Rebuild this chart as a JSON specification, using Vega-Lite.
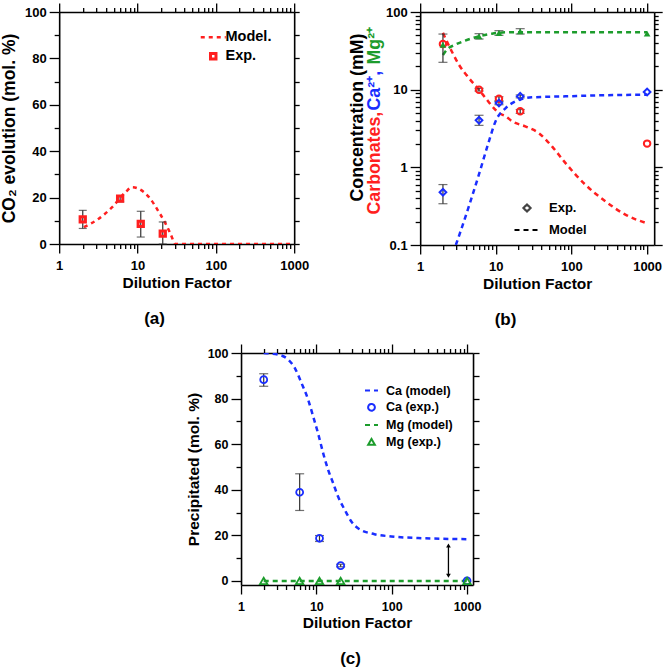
{
  "$schema": "https://vega.github.io/schema/vega-lite/v6.json",
  "padding": {"left": 0, "top": 2, "right": 0, "bottom": 0},
  "datasets": {
    "a_model": [
      {"x": 2.07, "y": 7.3, "series": "Model."},
      {"x": 3.2, "y": 10.9, "series": "Model."},
      {"x": 4.75, "y": 15.9, "series": "Model."},
      {"x": 7.0, "y": 22.3, "series": "Model."},
      {"x": 8.56, "y": 24.5, "series": "Model."},
      {"x": 10.4, "y": 23.8, "series": "Model."},
      {"x": 14, "y": 20.2, "series": "Model."},
      {"x": 18.8, "y": 13.7, "series": "Model."},
      {"x": 22.8, "y": 8.8, "series": "Model."},
      {"x": 26.3, "y": 4.5, "series": "Model."},
      {"x": 30.6, "y": 0, "series": "Model."},
      {"x": 100, "y": 0, "series": "Model."},
      {"x": 1000, "y": 0, "series": "Model."}
    ],
    "a_exp": [
      {"x": 2, "y": 10.6, "lo": 6.7, "hi": 14.5},
      {"x": 6, "y": 19.6, "lo": 18.2, "hi": 20.9},
      {"x": 11, "y": 8.7, "lo": 3.0, "hi": 14.1},
      {"x": 21, "y": 4.5, "lo": 0, "hi": 9.5}
    ],
    "b_model": [
      {"x": 2, "y": 54, "species": "Carbonates", "kind": "Model"},
      {"x": 2.25, "y": 41.9, "species": "Carbonates", "kind": "Model"},
      {"x": 2.62, "y": 31, "species": "Carbonates", "kind": "Model"},
      {"x": 3.25, "y": 21, "species": "Carbonates", "kind": "Model"},
      {"x": 4.41, "y": 14.1, "species": "Carbonates", "kind": "Model"},
      {"x": 5.97, "y": 10, "species": "Carbonates", "kind": "Model"},
      {"x": 7.32, "y": 7.8, "species": "Carbonates", "kind": "Model"},
      {"x": 8.97, "y": 6.1, "species": "Carbonates", "kind": "Model"},
      {"x": 11, "y": 5.0, "species": "Carbonates", "kind": "Model"},
      {"x": 13.5, "y": 4.54, "species": "Carbonates", "kind": "Model"},
      {"x": 16.5, "y": 3.9, "species": "Carbonates", "kind": "Model"},
      {"x": 24.5, "y": 3.37, "species": "Carbonates", "kind": "Model"},
      {"x": 36.8, "y": 2.77, "species": "Carbonates", "kind": "Model"},
      {"x": 55.3, "y": 1.86, "species": "Carbonates", "kind": "Model"},
      {"x": 83, "y": 1.14, "species": "Carbonates", "kind": "Model"},
      {"x": 152, "y": 0.6, "species": "Carbonates", "kind": "Model"},
      {"x": 281, "y": 0.365, "species": "Carbonates", "kind": "Model"},
      {"x": 516, "y": 0.246, "species": "Carbonates", "kind": "Model"},
      {"x": 1000, "y": 0.19, "species": "Carbonates", "kind": "Model"},
      {"x": 2.96, "y": 0.1, "species": "Ca", "kind": "Model"},
      {"x": 3.42, "y": 0.15, "species": "Ca", "kind": "Model"},
      {"x": 5.97, "y": 0.805, "species": "Ca", "kind": "Model"},
      {"x": 8.1, "y": 2.16, "species": "Ca", "kind": "Model"},
      {"x": 9.9, "y": 3.9, "species": "Ca", "kind": "Model"},
      {"x": 13.5, "y": 5.8, "species": "Ca", "kind": "Model"},
      {"x": 18.3, "y": 7.1, "species": "Ca", "kind": "Model"},
      {"x": 30, "y": 7.96, "species": "Ca", "kind": "Model"},
      {"x": 83, "y": 8.2, "species": "Ca", "kind": "Model"},
      {"x": 229, "y": 8.45, "species": "Ca", "kind": "Model"},
      {"x": 1000, "y": 8.6, "species": "Ca", "kind": "Model"},
      {"x": 2, "y": 28, "species": "Mg", "kind": "Model"},
      {"x": 2.25, "y": 32.7, "species": "Mg", "kind": "Model"},
      {"x": 2.9, "y": 37.9, "species": "Mg", "kind": "Model"},
      {"x": 3.94, "y": 42.8, "species": "Mg", "kind": "Model"},
      {"x": 5.97, "y": 48.6, "species": "Mg", "kind": "Model"},
      {"x": 8.9, "y": 52.6, "species": "Mg", "kind": "Model"},
      {"x": 13.3, "y": 54.7, "species": "Mg", "kind": "Model"},
      {"x": 21, "y": 55, "species": "Mg", "kind": "Model"},
      {"x": 83, "y": 55, "species": "Mg", "kind": "Model"},
      {"x": 1000, "y": 55, "species": "Mg", "kind": "Model"}
    ],
    "b_exp": [
      {"x": 2, "y": 38.7, "species": "Carbonates"},
      {"x": 6, "y": 10, "lo": 9.6, "hi": 10.4, "species": "Carbonates"},
      {"x": 11, "y": 7.65, "lo": 7.2, "hi": 8.1, "species": "Carbonates"},
      {"x": 21, "y": 5.26, "lo": 4.95, "hi": 5.55, "species": "Carbonates"},
      {"x": 1000, "y": 2.02, "species": "Carbonates"},
      {"x": 2, "y": 0.477, "lo": 0.34, "hi": 0.6, "species": "Ca"},
      {"x": 6, "y": 4.03, "lo": 3.47, "hi": 4.68, "species": "Ca"},
      {"x": 11, "y": 6.73, "lo": 6.4, "hi": 7.05, "species": "Ca"},
      {"x": 21, "y": 8.2, "lo": 7.85, "hi": 8.55, "species": "Ca"},
      {"x": 1000, "y": 9.33, "species": "Ca"},
      {"x": 2, "y": 37.9, "lo": 22.5, "hi": 52, "species": "Mg"},
      {"x": 6, "y": 48.6, "lo": 44.9, "hi": 52.6, "species": "Mg"},
      {"x": 11, "y": 53.7, "lo": 50.1, "hi": 57.5, "species": "Mg"},
      {"x": 21, "y": 56.4, "lo": 52.1, "hi": 61, "species": "Mg"},
      {"x": 1000, "y": 52.6, "species": "Mg"}
    ],
    "c_model": [
      {"x": 2, "y": 100, "series": "Ca (model)"},
      {"x": 3.12, "y": 99.3, "series": "Ca (model)"},
      {"x": 4.23, "y": 97.1, "series": "Ca (model)"},
      {"x": 5.18, "y": 93.4, "series": "Ca (model)"},
      {"x": 6.35, "y": 86.8, "series": "Ca (model)"},
      {"x": 7.78, "y": 79.5, "series": "Ca (model)"},
      {"x": 9.06, "y": 72.2, "series": "Ca (model)"},
      {"x": 10.5, "y": 64.9, "series": "Ca (model)"},
      {"x": 12.3, "y": 56.1, "series": "Ca (model)"},
      {"x": 14.3, "y": 48.8, "series": "Ca (model)"},
      {"x": 16.7, "y": 42.9, "series": "Ca (model)"},
      {"x": 19.4, "y": 37.0, "series": "Ca (model)"},
      {"x": 23.8, "y": 31.2, "series": "Ca (model)"},
      {"x": 29.1, "y": 26.1, "series": "Ca (model)"},
      {"x": 35.7, "y": 23.1, "series": "Ca (model)"},
      {"x": 59, "y": 20.5, "series": "Ca (model)"},
      {"x": 99, "y": 19.5, "series": "Ca (model)"},
      {"x": 272, "y": 18.7, "series": "Ca (model)"},
      {"x": 1000, "y": 18.3, "series": "Ca (model)"},
      {"x": 2, "y": 0, "series": "Mg (model)"},
      {"x": 1000, "y": 0, "series": "Mg (model)"}
    ],
    "c_exp": [
      {"x": 2, "y": 88.3, "lo": 85.4, "hi": 90.9, "series": "Ca (exp.)"},
      {"x": 6, "y": 38.9, "lo": 30.9, "hi": 47, "series": "Ca (exp.)"},
      {"x": 11, "y": 18.7, "lo": 17.3, "hi": 19.9, "series": "Ca (exp.)"},
      {"x": 21, "y": 6.7, "lo": 6.2, "hi": 7.3, "series": "Ca (exp.)"},
      {"x": 1000, "y": 0, "series": "Ca (exp.)"},
      {"x": 2, "y": 0, "series": "Mg (exp.)"},
      {"x": 6, "y": 0, "series": "Mg (exp.)"},
      {"x": 11, "y": 0, "series": "Mg (exp.)"},
      {"x": 21, "y": 0, "series": "Mg (exp.)"},
      {"x": 1000, "y": 0, "series": "Mg (exp.)"}
    ],
    "c_arrow": [
      {"x": 566, "top": 15.5, "bottom": 2.3}
    ]
  },
  "center": true,
  "spacing": 15,
  "vconcat": [
    {
      "spacing": 39,
      "hconcat": [
        {
          "width": 235,
          "height": 232,
          "title": {"text": "(a)", "orient": "bottom", "offset": 20, "anchor": "middle", "frame": "bounds"},
          "resolve": {"axis": {"x": "independent", "y": "independent"}},
          "layer": [
            {
              "data": {"name": "a_model"},
              "mark": {"type": "line", "strokeWidth": 2.5, "strokeDash": [4, 4], "interpolate": "monotone", "clip": true},
              "encoding": {
                "x": {"field": "x", "type": "quantitative", "scale": {"type": "log", "domain": [1, 1000]},
                  "axis": {"title": "Dilution Factor", "titleFontSize": 15.5, "titlePadding": 3, "labelPadding": 6,
                    "values": [1,2,3,4,5,6,7,8,9,10,20,30,40,50,60,70,80,90,100,200,300,400,500,600,700,800,900,1000],
                    "labelExpr": "(datum.value==1||datum.value==10||datum.value==100||datum.value==1000) ? datum.value+'' : ''",
                    "tickSize": {"condition": {"test": "datum.value==1||datum.value==10||datum.value==100||datum.value==1000", "value": 9}, "value": 4.5}}},
                "y": {"field": "y", "type": "quantitative", "scale": {"domain": [0, 100], "nice": false},
                  "axis": {"title": "CO₂ evolution (mol. %)", "titleFontSize": 17.5, "titlePadding": 6, "labelPadding": 3,
                    "values": [0,10,20,30,40,50,60,70,80,90,100],
                    "labelExpr": "datum.value % 20 == 0 ? datum.value+'' : ''",
                    "tickSize": {"condition": {"test": "datum.value % 20 == 0", "value": 10}, "value": 5}}},
                "color": {"field": "series", "type": "nominal",
                  "scale": {"domain": ["Model.", "Exp."], "range": ["#ff1f1f", "#ff1f1f"]},
                  "legend": {"title": null, "orient": "none", "legendX": 147, "legendY": 18, "symbolSize": 400, "labelOffset": 5,
                    "labelFontSize": 14.5, "rowPadding": 3, "symbolStrokeWidth": 2.5,
                    "encode": {"symbols": {"update": {
                      "shape": {"signal": "datum.value == 'Exp.' ? 'square' : 'stroke'"},
                      "size": {"signal": "datum.value == 'Exp.' ? 30 : 625"},
                      "stroke": {"value": "#ff1f1f"},
                      "strokeDash": {"signal": "datum.value == 'Exp.' ? [1, 0] : [4, 4]"},
                      "strokeWidth": {"signal": "datum.value == 'Exp.' ? 3 : 2.5"},
                      "fill": {"value": "transparent"}}}}}}
              }
            },
            {
              "data": {"name": "a_exp"},
              "mark": {"type": "rule", "color": "#333333", "strokeWidth": 1.2},
              "encoding": {
                "x": {"field": "x", "type": "quantitative", "scale": {"type": "log", "domain": [1, 1000]},
                  "axis": {"orient": "top", "title": null, "labels": false,
                    "values": [1,2,3,4,5,6,7,8,9,10,20,30,40,50,60,70,80,90,100,200,300,400,500,600,700,800,900,1000],
                    "tickSize": {"condition": {"test": "datum.value==1||datum.value==10||datum.value==100||datum.value==1000", "value": 9}, "value": 4.5}}},
                "y": {"field": "lo", "type": "quantitative", "scale": {"domain": [0, 100], "nice": false},
                  "axis": {"orient": "right", "title": null, "labels": false, "values": [0,10,20,30,40,50,60,70,80,90,100], "tickSize": 5}},
                "y2": {"field": "hi"}
              }
            },
            {
              "data": {"name": "a_exp"},
              "mark": {"type": "tick", "orient": "horizontal", "color": "#333333", "size": 8, "thickness": 1.2},
              "encoding": {
                "x": {"field": "x", "type": "quantitative", "scale": {"type": "log", "domain": [1, 1000]}, "axis": null},
                "y": {"field": "lo", "type": "quantitative", "scale": {"domain": [0, 100], "nice": false}, "axis": null}
              }
            },
            {
              "data": {"name": "a_exp"},
              "mark": {"type": "tick", "orient": "horizontal", "color": "#333333", "size": 8, "thickness": 1.2},
              "encoding": {
                "x": {"field": "x", "type": "quantitative", "scale": {"type": "log", "domain": [1, 1000]}, "axis": null},
                "y": {"field": "hi", "type": "quantitative", "scale": {"domain": [0, 100], "nice": false}, "axis": null}
              }
            },
            {
              "data": {"name": "a_exp"},
              "mark": {"type": "point", "shape": "square", "filled": false, "color": "#ff1f1f", "strokeWidth": 3, "size": 28, "opacity": 1},
              "encoding": {
                "x": {"field": "x", "type": "quantitative", "scale": {"type": "log", "domain": [1, 1000]}, "axis": null},
                "y": {"field": "y", "type": "quantitative", "scale": {"domain": [0, 100], "nice": false}, "axis": null}
              }
            }
          ]
        },
        {
          "width": 234,
          "height": 233,
          "title": {"text": "(b)", "orient": "bottom", "offset": 20, "anchor": "middle", "frame": "bounds"},
          "resolve": {"axis": {"x": "independent", "y": "independent"}},
          "layer": [
            {
              "data": {"name": "b_model"},
              "transform": [{"filter": "datum.species == 'Carbonates'"}],
              "mark": {"type": "line", "color": "#ff1f1f", "strokeWidth": 2.5, "interpolate": "monotone", "clip": true},
              "encoding": {
                "x": {"field": "x", "type": "quantitative", "scale": {"type": "log", "domain": [1, 1240]},
                  "axis": {"title": "Dilution Factor", "titleFontSize": 15.5, "titlePadding": 3, "labelPadding": 6,
                    "values": [1,2,3,4,5,6,7,8,9,10,20,30,40,50,60,70,80,90,100,200,300,400,500,600,700,800,900,1000],
                    "labelExpr": "(datum.value==1||datum.value==10||datum.value==100||datum.value==1000) ? datum.value+'' : ''",
                    "tickSize": {"condition": {"test": "datum.value==1||datum.value==10||datum.value==100||datum.value==1000", "value": 9}, "value": 4.5}}},
                "y": {"field": "y", "type": "quantitative", "scale": {"type": "log", "domain": [0.1, 100]},
                  "axis": {"title": "Concentration (mM)", "titleFontSize": 17.8, "titleX": -63, "titleY": 105, "titleBaseline": "middle", "titleAlign": "center", "titleAngle": 270,
                    "labelPadding": 3,
                    "values": [0.1,0.2,0.3,0.4,0.5,0.6,0.7,0.8,0.9,1,2,3,4,5,6,7,8,9,10,20,30,40,50,60,70,80,90,100],
                    "labelExpr": "datum.value==0.1 ? '0.1' : datum.value==1 ? '1' : datum.value==10 ? '10' : datum.value==100 ? '100' : ''",
                    "tickSize": {"condition": {"test": "datum.value==0.1||datum.value==1||datum.value==10||datum.value==100", "value": 10}, "value": 5}}},
                "strokeDash": {"field": "kind", "type": "nominal",
                  "scale": {"domain": ["Exp.", "Model"], "range": [[1, 0], [5, 4]]},
                  "legend": {"title": null, "orient": "none", "legendX": 454, "legendY": 182, "symbolSize": 324, "labelOffset": 8,
                    "labelFontSize": 13, "rowPadding": 0, "symbolStrokeWidth": 2, "symbolStrokeColor": "#333333",
                    "encode": {"symbols": {"update": {
                      "shape": {"signal": "datum.value == 'Exp.' ? 'diamond' : 'stroke'"},
                      "size": {"signal": "datum.value == 'Exp.' ? 50 : 625"},
                      "stroke": {"signal": "datum.value == 'Exp.' ? '#444444' : '#000000'"},
                      "strokeWidth": {"value": 2.2},
                      "fill": {"value": "transparent"}}}}}}
              }
            },
            {
              "data": {"name": "b_model"},
              "transform": [{"filter": "datum.species == 'Ca'"}],
              "mark": {"type": "line", "color": "#1a2eff", "strokeWidth": 2.5, "interpolate": "monotone", "clip": true},
              "encoding": {
                "x": {"field": "x", "type": "quantitative", "scale": {"type": "log", "domain": [1, 1240]}, "axis": null},
                "y": {"field": "y", "type": "quantitative", "scale": {"type": "log", "domain": [0.1, 100]}, "axis": null},
                "strokeDash": {"field": "kind", "type": "nominal", "scale": {"domain": ["Exp.", "Model"], "range": [[1, 0], [5, 4]]}, "legend": null}
              }
            },
            {
              "data": {"name": "b_model"},
              "transform": [{"filter": "datum.species == 'Mg'"}],
              "mark": {"type": "line", "color": "#1c9c2c", "strokeWidth": 2.5, "interpolate": "monotone", "clip": true},
              "encoding": {
                "x": {"field": "x", "type": "quantitative", "scale": {"type": "log", "domain": [1, 1240]}, "axis": null},
                "y": {"field": "y", "type": "quantitative", "scale": {"type": "log", "domain": [0.1, 100]}, "axis": null},
                "strokeDash": {"field": "kind", "type": "nominal", "scale": {"domain": ["Exp.", "Model"], "range": [[1, 0], [5, 4]]}, "legend": null}
              }
            },
            {
              "data": {"name": "b_exp"},
              "mark": {"type": "rule", "color": "#333333", "strokeWidth": 1.2},
              "encoding": {
                "x": {"field": "x", "type": "quantitative", "scale": {"type": "log", "domain": [1, 1240]},
                  "axis": {"orient": "top", "title": null, "labels": false,
                    "values": [1,2,3,4,5,6,7,8,9,10,20,30,40,50,60,70,80,90,100,200,300,400,500,600,700,800,900,1000],
                    "tickSize": {"condition": {"test": "datum.value==1||datum.value==10||datum.value==100||datum.value==1000", "value": 9}, "value": 4.5}}},
                "y": {"field": "lo", "type": "quantitative", "scale": {"type": "log", "domain": [0.1, 100]},
                  "axis": {"orient": "right", "title": null, "labels": false,
                    "values": [0.1,0.2,0.3,0.4,0.5,0.6,0.7,0.8,0.9,1,2,3,4,5,6,7,8,9,10,20,30,40,50,60,70,80,90,100],
                    "tickSize": {"condition": {"test": "datum.value==0.1||datum.value==1||datum.value==10||datum.value==100", "value": 8}, "value": 4}}},
                "y2": {"field": "hi"}
              }
            },
            {
              "data": {"name": "b_exp"},
              "mark": {"type": "tick", "orient": "horizontal", "color": "#333333", "size": 9, "thickness": 1.2},
              "encoding": {
                "x": {"field": "x", "type": "quantitative", "scale": {"type": "log", "domain": [1, 1240]}, "axis": null},
                "y": {"field": "lo", "type": "quantitative", "scale": {"type": "log", "domain": [0.1, 100]},
                  "axis": {"orient": "left", "title": "Carbonates,", "titleColor": "#ff1f1f", "titleFontSize": 17.8, "labels": false, "ticks": false, "domain": false,
                    "titleX": -46, "titleY": 202, "titleAlign": "left", "titleBaseline": "middle", "titleAngle": 270}}
              }
            },
            {
              "data": {"name": "b_exp"},
              "mark": {"type": "tick", "orient": "horizontal", "color": "#333333", "size": 9, "thickness": 1.2},
              "encoding": {
                "x": {"field": "x", "type": "quantitative", "scale": {"type": "log", "domain": [1, 1240]}, "axis": null},
                "y": {"field": "hi", "type": "quantitative", "scale": {"type": "log", "domain": [0.1, 100]},
                  "axis": {"orient": "left", "title": "Ca²⁺,", "titleColor": "#1a2eff", "titleFontSize": 17.8, "labels": false, "ticks": false, "domain": false,
                    "titleX": -46, "titleY": 98, "titleAlign": "left", "titleBaseline": "middle", "titleAngle": 270}}
              }
            },
            {
              "data": {"name": "b_exp"},
              "transform": [{"filter": "datum.species == 'Carbonates'"}],
              "mark": {"type": "point", "shape": "circle", "filled": false, "color": "#ff1f1f", "strokeWidth": 2, "size": 42, "opacity": 1},
              "encoding": {
                "x": {"field": "x", "type": "quantitative", "scale": {"type": "log", "domain": [1, 1240]}, "axis": null},
                "y": {"field": "y", "type": "quantitative", "scale": {"type": "log", "domain": [0.1, 100]},
                  "axis": {"orient": "left", "title": "Mg²⁺", "titleColor": "#1c9c2c", "titleFontSize": 17.8, "labels": false, "ticks": false, "domain": false,
                    "titleX": -46, "titleY": 52, "titleAlign": "left", "titleBaseline": "middle", "titleAngle": 270}}
              }
            },
            {
              "data": {"name": "b_exp"},
              "transform": [{"filter": "datum.species == 'Ca'"}],
              "mark": {"type": "point", "shape": "diamond", "filled": false, "color": "#1a2eff", "strokeWidth": 2, "size": 45, "opacity": 1},
              "encoding": {
                "x": {"field": "x", "type": "quantitative", "scale": {"type": "log", "domain": [1, 1240]}, "axis": null},
                "y": {"field": "y", "type": "quantitative", "scale": {"type": "log", "domain": [0.1, 100]}, "axis": null}
              }
            },
            {
              "data": {"name": "b_exp"},
              "transform": [{"filter": "datum.species == 'Mg'"}],
              "mark": {"type": "point", "shape": "triangle-up", "filled": true, "color": "#1c9c2c", "size": 45, "opacity": 1},
              "encoding": {
                "x": {"field": "x", "type": "quantitative", "scale": {"type": "log", "domain": [1, 1240]}, "axis": null},
                "y": {"field": "y", "type": "quantitative", "scale": {"type": "log", "domain": [0.1, 100]}, "axis": null}
              }
            }
          ]
        }
      ]
    },
    {
      "width": 232,
      "height": 232,
      "title": {"text": "(c)", "orient": "bottom", "offset": 20, "anchor": "middle", "frame": "bounds", "dx": 17},
      "resolve": {"axis": {"x": "independent", "y": "independent"}},
      "layer": [
        {
          "data": {"name": "c_model"},
          "transform": [{"filter": "datum.series == 'Ca (model)'"}],
          "mark": {"type": "line", "strokeWidth": 2.5, "strokeDash": [5, 4], "interpolate": "monotone", "clip": true},
          "encoding": {
            "x": {"field": "x", "type": "quantitative", "scale": {"type": "log", "domain": [1, 1200]},
              "axis": {"title": "Dilution Factor", "titleFontSize": 15.5, "titlePadding": 3, "labelPadding": 6, "labelFontSize": 12.5,
                "values": [1,2,3,4,5,6,7,8,9,10,20,30,40,50,60,70,80,90,100,200,300,400,500,600,700,800,900,1000],
                "labelExpr": "(datum.value==1||datum.value==10||datum.value==100||datum.value==1000) ? datum.value+'' : ''",
                "tickSize": {"condition": {"test": "datum.value==1||datum.value==10||datum.value==100||datum.value==1000", "value": 9}, "value": 4.5}}},
            "y": {"field": "y", "type": "quantitative", "scale": {"domain": [-1.8, 100], "nice": false, "zero": false},
              "axis": {"title": "Precipitated (mol. %)", "titleFontSize": 15.5, "titlePadding": 6, "labelPadding": 3, "labelFontSize": 12.5,
                "values": [0,10,20,30,40,50,60,70,80,90,100],
                "labelExpr": "datum.value % 20 == 0 ? datum.value+'' : ''",
                "tickSize": {"condition": {"test": "datum.value % 20 == 0", "value": 10}, "value": 5}}},
            "stroke": {"field": "series", "type": "nominal",
              "scale": {"domain": ["Ca (model)", "Ca (exp.)", "Mg (model)", "Mg (exp.)"], "range": ["#1a2eff", "#1a2eff", "#1c9c2c", "#1c9c2c"]},
              "legend": {"title": null, "orient": "none", "legendX": 305, "legendY": 371, "symbolSize": 169, "labelOffset": 7,
                "labelFontSize": 12.5, "rowPadding": 2.8, "symbolStrokeWidth": 2,
                "encode": {"symbols": {"update": {
                  "shape": {"signal": "datum.value == 'Ca (exp.)' ? 'circle' : (datum.value == 'Mg (exp.)' ? 'triangle-up' : 'stroke')"},
                  "size": {"signal": "(datum.value == 'Ca (exp.)' || datum.value == 'Mg (exp.)') ? 45 : 169"},
                  "strokeDash": {"signal": "(datum.value == 'Ca (model)' || datum.value == 'Mg (model)') ? [5, 4] : [1, 0]"},
                  "strokeWidth": {"value": 2},
                  "fill": {"value": "transparent"}}}}}}
          }
        },
        {
          "data": {"name": "c_model"},
          "transform": [{"filter": "datum.series == 'Mg (model)'"}],
          "mark": {"type": "line", "color": "#1c9c2c", "strokeWidth": 2.5, "strokeDash": [5, 4], "clip": true},
          "encoding": {
            "x": {"field": "x", "type": "quantitative", "scale": {"type": "log", "domain": [1, 1200]}, "axis": null},
            "y": {"field": "y", "type": "quantitative", "scale": {"domain": [-1.8, 100], "nice": false, "zero": false}, "axis": null}
          }
        },
        {
          "data": {"name": "c_exp"},
          "mark": {"type": "rule", "color": "#333333", "strokeWidth": 1.2},
          "encoding": {
            "x": {"field": "x", "type": "quantitative", "scale": {"type": "log", "domain": [1, 1200]},
              "axis": {"orient": "top", "title": null, "labels": false,
                "values": [1,2,3,4,5,6,7,8,9,10,20,30,40,50,60,70,80,90,100,200,300,400,500,600,700,800,900,1000],
                "tickSize": {"condition": {"test": "datum.value==1||datum.value==10||datum.value==100||datum.value==1000", "value": 9}, "value": 4.5}}},
            "y": {"field": "lo", "type": "quantitative", "scale": {"domain": [-1.8, 100], "nice": false, "zero": false},
              "axis": {"orient": "right", "title": null, "labels": false, "values": [0,10,20,30,40,50,60,70,80,90,100], "tickSize": 6}},
            "y2": {"field": "hi"}
          }
        },
        {
          "data": {"name": "c_exp"},
          "mark": {"type": "tick", "orient": "horizontal", "color": "#333333", "size": 9, "thickness": 1.2},
          "encoding": {
            "x": {"field": "x", "type": "quantitative", "scale": {"type": "log", "domain": [1, 1200]}, "axis": null},
            "y": {"field": "lo", "type": "quantitative", "scale": {"domain": [-1.8, 100], "nice": false, "zero": false}, "axis": null}
          }
        },
        {
          "data": {"name": "c_exp"},
          "mark": {"type": "tick", "orient": "horizontal", "color": "#333333", "size": 9, "thickness": 1.2},
          "encoding": {
            "x": {"field": "x", "type": "quantitative", "scale": {"type": "log", "domain": [1, 1200]}, "axis": null},
            "y": {"field": "hi", "type": "quantitative", "scale": {"domain": [-1.8, 100], "nice": false, "zero": false}, "axis": null}
          }
        },
        {
          "data": {"name": "c_exp"},
          "transform": [{"filter": "datum.series == 'Ca (exp.)'"}],
          "mark": {"type": "point", "shape": "circle", "filled": false, "color": "#1a2eff", "strokeWidth": 1.8, "size": 48, "opacity": 1},
          "encoding": {
            "x": {"field": "x", "type": "quantitative", "scale": {"type": "log", "domain": [1, 1200]}, "axis": null},
            "y": {"field": "y", "type": "quantitative", "scale": {"domain": [-1.8, 100], "nice": false, "zero": false}, "axis": null}
          }
        },
        {
          "data": {"name": "c_exp"},
          "transform": [{"filter": "datum.series == 'Mg (exp.)'"}],
          "mark": {"type": "point", "shape": "triangle-up", "filled": false, "color": "#1c9c2c", "strokeWidth": 1.8, "size": 55, "opacity": 1},
          "encoding": {
            "x": {"field": "x", "type": "quantitative", "scale": {"type": "log", "domain": [1, 1200]}, "axis": null},
            "y": {"field": "y", "type": "quantitative", "scale": {"domain": [-1.8, 100], "nice": false, "zero": false}, "axis": null}
          }
        },
        {
          "data": {"name": "c_arrow"},
          "mark": {"type": "rule", "color": "#000000", "strokeWidth": 1.3},
          "encoding": {
            "x": {"field": "x", "type": "quantitative", "scale": {"type": "log", "domain": [1, 1200]}, "axis": null},
            "y": {"field": "bottom", "type": "quantitative", "scale": {"domain": [-1.8, 100], "nice": false, "zero": false}, "axis": null},
            "y2": {"field": "top"}
          }
        },
        {
          "data": {"name": "c_arrow"},
          "mark": {"type": "point", "shape": "triangle-up", "filled": true, "color": "#000000", "size": 22, "opacity": 1},
          "encoding": {
            "x": {"field": "x", "type": "quantitative", "scale": {"type": "log", "domain": [1, 1200]}, "axis": null},
            "y": {"field": "top", "type": "quantitative", "scale": {"domain": [-1.8, 100], "nice": false, "zero": false}, "axis": null}
          }
        },
        {
          "data": {"name": "c_arrow"},
          "mark": {"type": "point", "shape": "triangle-down", "filled": true, "color": "#000000", "size": 22, "opacity": 1},
          "encoding": {
            "x": {"field": "x", "type": "quantitative", "scale": {"type": "log", "domain": [1, 1200]}, "axis": null},
            "y": {"field": "bottom", "type": "quantitative", "scale": {"domain": [-1.8, 100], "nice": false, "zero": false}, "axis": null}
          }
        }
      ]
    }
  ],
  "config": {
    "view": {"stroke": null},
    "font": "Liberation Sans",
    "axis": {"labelFont": "Liberation Sans", "labelFontSize": 13, "labelFontWeight": "bold", "labelColor": "#000000",
      "titleFont": "Liberation Sans", "titleFontWeight": "bold", "titleColor": "#000000",
      "domainColor": "#000000", "domainWidth": 1.6, "tickColor": "#000000", "tickWidth": 1.3, "grid": false,
      "labelOverlap": false, "labelFlush": false, "labelBound": false},
    "legend": {"labelFont": "Liberation Sans", "labelFontWeight": "bold", "labelColor": "#000000"},
    "title": {"font": "Liberation Sans", "fontWeight": "bold", "fontSize": 17, "color": "#000000"}
  }
}
